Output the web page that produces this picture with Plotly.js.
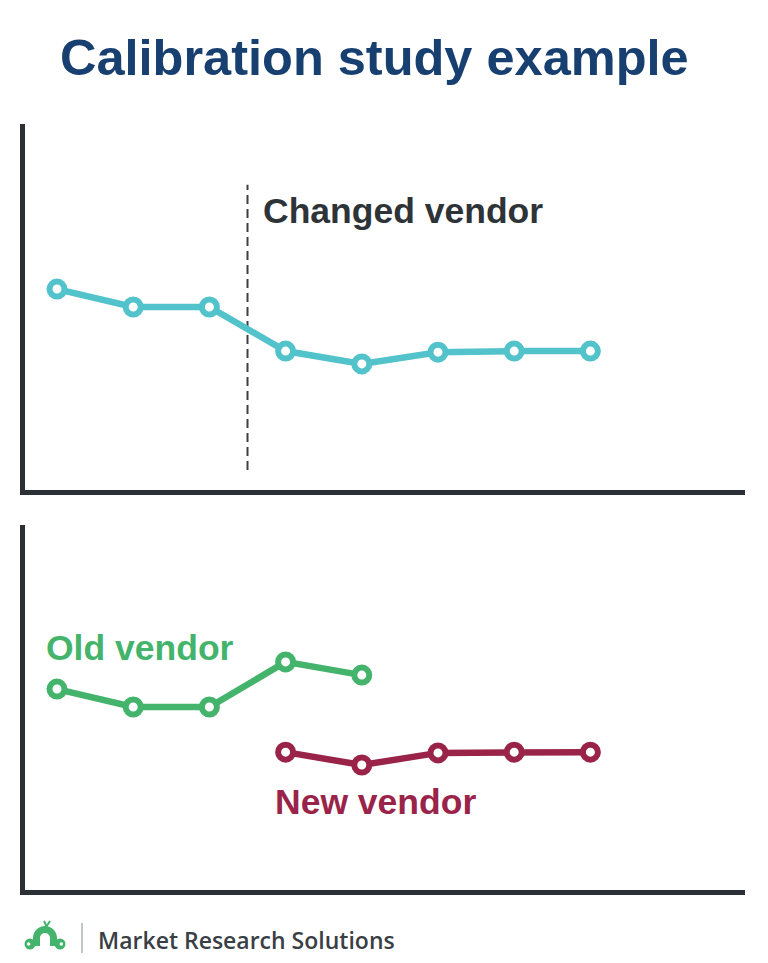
<!DOCTYPE html>
<html><head><meta charset="utf-8">
<script src="https://cdn.plot.ly/plotly-3.0.1.min.js"></script>
<style>html,body{margin:0;padding:0;background:#fff}#c{width:768px;height:963px}</style>
</head><body><div id="c"></div>
<script>
// Data (arbitrary index scale 0-100)
const periods = [0,1,2,3,4,5,6,7];
const combined = [55.3, 50.4, 50.4, 38.4, 34.9, 38.1, 38.4, 38.4];
const oldPeriods = [0,1,2,3,4];
const oldVendor = [55.3, 50.4, 50.4, 62.7, 59.1];
const newPeriods = [3,4,5,6,7];
const newVendor = [38.1, 34.6, 37.9, 38.1, 38.1];
const changeAt = 2.5;
const changeSpan = [6, 83.7];

const W=768,H=963;
const px=x=>x/W, py=y=>1-y/H;

const teal='#52c2cb', green='#44b46c', red='#9a2449', dark='#2b3036';
function tr(x,y,c,xa,ya){return {x:x,y:y,xaxis:xa,yaxis:ya,mode:'lines+markers',type:'scatter',
  line:{color:c,width:6.5},marker:{symbol:'circle',size:15,color:'#fff',line:{color:c,width:6}},
  hoverinfo:'skip',showlegend:false,cliponaxis:false};}

const data=[
  {x:[changeAt,changeAt],y:changeSpan,xaxis:'x',yaxis:'y',mode:'lines',type:'scatter',line:{color:'#3a3f45',width:2,dash:'9px,5px'},hoverinfo:'skip',showlegend:false},
  tr(periods,combined,teal,'x','y'),
  tr(oldPeriods,oldVendor,green,'x2','y2'),
  tr(newPeriods,newVendor,red,'x2','y2')
];
const xr=[(25-57)/76.2,(745-57)/76.2];
const ax={range:xr,showline:true,linecolor:dark,linewidth:5,showgrid:false,zeroline:false,showticklabels:false,ticks:'',fixedrange:true};
const ay={showline:true,linecolor:dark,linewidth:5,showgrid:false,zeroline:false,showticklabels:false,ticks:'',fixedrange:true};
const P=(x,y)=>`${px(x)},${py(y)}`;
const layout={
  width:W,height:H,margin:{l:0,r:0,t:0,b:0},paper_bgcolor:'#fff',plot_bgcolor:'#fff',
  xaxis:Object.assign({},ax,{domain:[px(25),px(745)],anchor:'y'}),
  yaxis:Object.assign({},ay,{range:[(492-489.5)/3.67,(492-124)/3.67],domain:[py(489.5),py(124)],anchor:'x'}),
  xaxis2:Object.assign({},ax,{domain:[px(25),px(745)],anchor:'y2'}),
  yaxis2:Object.assign({},ay,{range:[(892-889.5)/3.67,(892-525)/3.67],domain:[py(889.5),py(525)],anchor:'x2'}),
  annotations:[
    {text:'<b>Calibration study example</b>',xref:'paper',yref:'paper',x:px(374),y:py(57),xanchor:'center',yanchor:'middle',showarrow:false,font:{family:'Liberation Sans, Arial, sans-serif',size:50.5,color:'#173f70'}},
    {text:'<b>Changed vendor</b>',xref:'paper',yref:'paper',x:px(261),y:py(211),xanchor:'left',yanchor:'middle',showarrow:false,font:{family:'Liberation Sans, Arial, sans-serif',size:35.5,color:'#2e3338'}},
    {text:'<b>Old vendor</b>',xref:'paper',yref:'paper',x:px(44),y:py(648),xanchor:'left',yanchor:'middle',showarrow:false,font:{family:'Liberation Sans, Arial, sans-serif',size:35.5,color:green}},
    {text:'<b>New vendor</b>',xref:'paper',yref:'paper',x:px(273),y:py(802),xanchor:'left',yanchor:'middle',showarrow:false,font:{family:'Liberation Sans, Arial, sans-serif',size:35.5,color:red}},
    {text:'Market Research Solutions',xref:'paper',yref:'paper',x:px(96),y:py(940),xanchor:'left',yanchor:'middle',showarrow:false,font:{family:'Open Sans, sans-serif',size:23,weight:600,color:'#3a3f45'}}
  ],
  shapes:[
    {type:'line',xref:'paper',yref:'paper',x0:px(82),x1:px(82),y0:py(923),y1:py(953),line:{color:'#9aa0a6',width:1.2}},
    {type:'path',xref:'paper',yref:'paper',path:`M ${P(33,946)} L ${P(33,938)} C ${P(33,931.4)} ${P(38.4,926)} ${P(45,926)} C ${P(51.6,926)} ${P(57,931.4)} ${P(57,938)} L ${P(57,946)} L ${P(50,946)} L ${P(50,938)} C ${P(50,935.2)} ${P(47.8,933)} ${P(45,933)} C ${P(42.2,933)} ${P(40,935.2)} ${P(40,938)} L ${P(40,946)} Z`,fillcolor:green,line:{width:0}},
    {type:'circle',xref:'paper',yref:'paper',x0:px(24.5),x1:px(35.5),y0:py(938.5),y1:py(949.5),fillcolor:green,line:{width:0}},
    {type:'circle',xref:'paper',yref:'paper',x0:px(54.5),x1:px(65.5),y0:py(938.5),y1:py(949.5),fillcolor:green,line:{width:0}},
    {type:'circle',xref:'paper',yref:'paper',x0:px(27),x1:px(30.4),y0:py(942.3),y1:py(945.7),fillcolor:'#fff',line:{width:0}},
    {type:'circle',xref:'paper',yref:'paper',x0:px(59.6),x1:px(63),y0:py(942.3),y1:py(945.7),fillcolor:'#fff',line:{width:0}},
    {type:'path',xref:'paper',yref:'paper',path:`M ${P(44,921)} L ${P(46.5,926.5)} L ${P(50,921)}`,line:{color:green,width:2}}
  ]
};
Plotly.newPlot('c',data,layout,{staticPlot:true,displayModeBar:false});
</script></body></html>
